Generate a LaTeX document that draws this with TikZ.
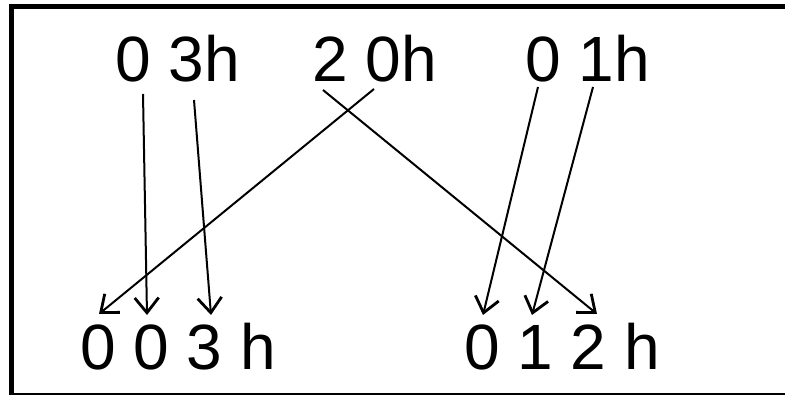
\documentclass[tikz,border=0pt]{standalone}
\usepackage{fontspec}
\setmainfont{Liberation Sans}
\usetikzlibrary{arrows.meta}
\begin{document}
\begin{tikzpicture}[x=1pt,y=-1pt,
  lbl/.style={anchor=base west, inner sep=0pt, font=\fontsize{64}{70}\selectfont},
  conn/.style={line width=2pt, -{Straight Barb[length=15pt,width=24pt,line width=2.8pt]}},
  frame/.style={line width=4.5pt}]
\useasboundingbox (0,0) rectangle (785,395);
\clip (0,0) rectangle (785,395);
\draw[frame] (800,6.5) -- (11.5,6.5) -- (11.5,395) -- (800,395);
% texts
\node[lbl] (t1) at (115,82) {0 3h};
\node[lbl] (t2) at (312,82) {2 0h};
\node[lbl] (t3) at (525,82) {0 1h};
\node[lbl] (b1) at (80,370) {0 0 3 h};
\node[lbl] (b2) at (464,370) {0 1 2 h};
% connector ends
\coordinate (s1) at (143,94);
\coordinate (e1) at (147,315);
\coordinate (s2) at (194,100);
\coordinate (e2) at (211,315);
\coordinate (s3) at (374,89);
\coordinate (e3) at (99,314);
\coordinate (s4) at (323,90);
\coordinate (e4) at (597,314);
\coordinate (s5) at (538,87);
\coordinate (e5) at (483,315);
\coordinate (s6) at (593,87);
\coordinate (e6) at (532,315);
\draw[conn] (s1) -- (e1);
\draw[conn] (s2) -- (e2);
\draw[conn] (s3) -- (e3);
\draw[conn] (s4) -- (e4);
\draw[conn] (s5) -- (e5);
\draw[conn] (s6) -- (e6);
\end{tikzpicture}
\end{document}
